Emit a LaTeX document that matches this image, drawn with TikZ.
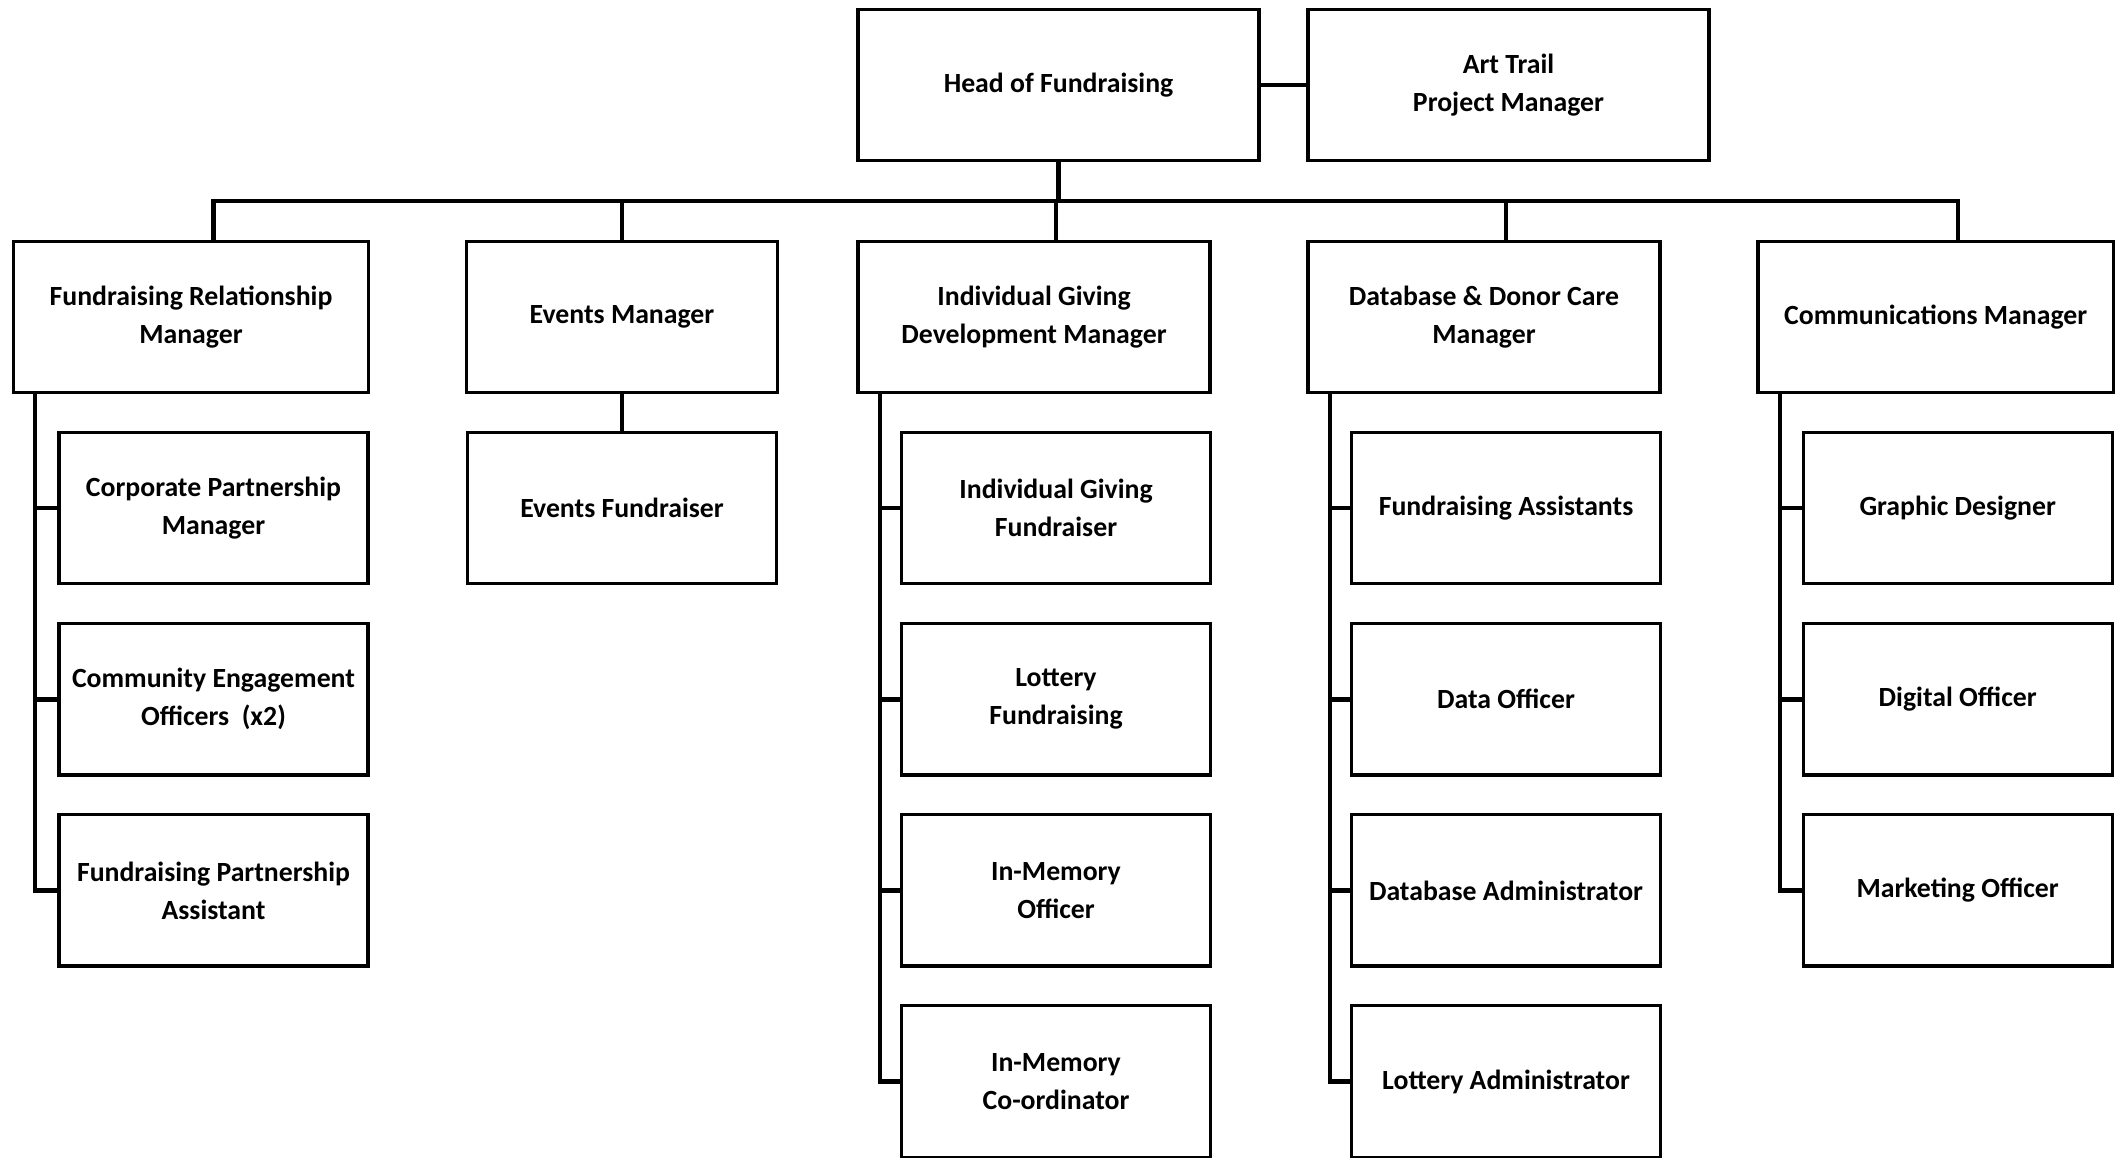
\documentclass[tikz,border=0pt]{standalone}
\usepackage{fontspec}
\setmainfont{Carlito}

\begin{document}
\begin{tikzpicture}[x=0.02cm,y=-0.02cm]
\tikzset{
  box/.style={draw=black, line width=1.9pt, minimum height=3.03cm, inner sep=0pt,
    align=center, font=\fontsize{15.8}{21.6}\selectfont\bfseries},
  post/.style={box, minimum width=6.18cm},
  link/.style={draw=black, line width=2.5pt},
}
\useasboundingbox (0,0) rectangle (2125,1158);
% top row
\node[box, minimum width=8.02cm] (head) at (1058.5,85) {Head of Fundraising};
\node[box, minimum width=8.02cm] (art) at (1508.5,85) {Art Trail\\Project Manager};
% managers
\node[box, minimum width=7.11cm] (frm) at (191,317) {Fundraising Relationship\\Manager};
\node[box, minimum width=6.21cm] (em) at (622,317) {Events Manager};
\node[box, minimum width=7.04cm] (igdm) at (1034,317) {Individual Giving\\Development Manager};
\node[box, minimum width=7.04cm] (ddcm) at (1484,317) {Database \& Donor Care\\Manager};
\node[box, minimum width=7.11cm] (comm) at (1935.7,317) {Communications Manager};
% fundraising relationship team
\node[post] (cpm) at (213.5,508) {Corporate Partnership\\Manager};
\node[post] (ceo) at (213.5,699.3) {Community Engagement\\Officers\ \ (x2)};
\node[post] (fpa) at (213.5,890.4) {Fundraising Partnership\\Assistant};
% events team
\node[post] (ef) at (622,508) {Events Fundraiser};
% individual giving team
\node[post] (igf) at (1056,508) {Individual Giving\\Fundraiser};
\node[post] (lf) at (1056,699.3) {Lottery\\Fundraising};
\node[post] (imo) at (1056,890.4) {In-Memory\\Officer};
\node[post] (imc) at (1056,1081.5) {In-Memory\\Co-ordinator};
% database team
\node[post] (fa) at (1506,508) {Fundraising Assistants};
\node[post] (dof) at (1506,699.3) {Data Officer};
\node[post] (dba) at (1506,890.4) {Database Administrator};
\node[post] (la) at (1506,1081.5) {Lottery Administrator};
% communications team
\node[post] (gd) at (1957.7,508) {Graphic Designer};
\node[post] (dig) at (1957.7,699.3) {Digital Officer};
\node[post] (mo) at (1957.7,890.4) {Marketing Officer};

% lines
\coordinate (bus) at (0,201);
\draw[link] (head.east) -- (art.west);
\draw[link] (head.south) -- (head.south |- bus);
\draw[link] (cpm |- frm.north) -- (cpm |- bus) -- (gd |- bus) -- (gd |- comm.north);
\draw[link] (ef |- bus) -- (em.north);
\draw[link] (igf |- bus) -- (igf |- igdm.north);
\draw[link] (fa |- bus) -- (fa |- ddcm.north);
\draw[link] (em.south) -- (ef.north);
\foreach \n in {cpm,ceo,fpa}
  \draw[link] ([xshift=0.47cm]frm.south west) |- (\n.west);
\foreach \n in {igf,lf,imo,imc}
  \draw[link] ([xshift=0.47cm]igdm.south west) |- (\n.west);
\foreach \n in {fa,dof,dba,la}
  \draw[link] ([xshift=0.47cm]ddcm.south west) |- (\n.west);
\foreach \n in {gd,dig,mo}
  \draw[link] ([xshift=0.47cm]comm.south west) |- (\n.west);
\end{tikzpicture}
\end{document}
